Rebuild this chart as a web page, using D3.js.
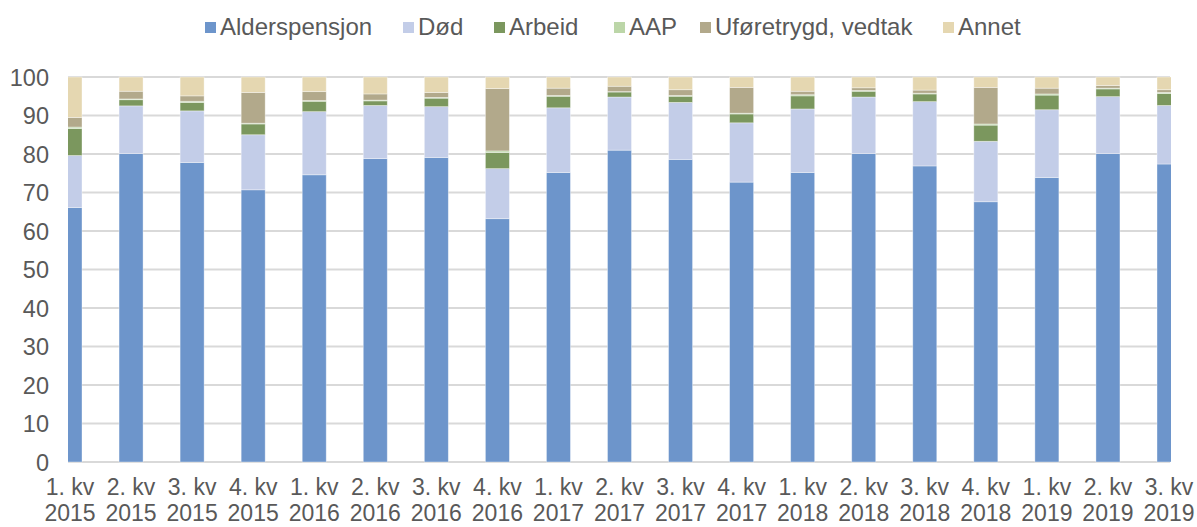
<!DOCTYPE html>
<html>
<head>
<meta charset="utf-8">
<script src="https://cdn.jsdelivr.net/npm/d3@7"></script>
<style>
body { margin: 0; background: #fff; }
text { font-family: "Liberation Sans", Arial, sans-serif; fill: #595959; }
</style>
</head>
<body>
<svg id="viz"></svg>
<script>
var width = 1197;
var height = 527;

// categories
var quarters = ["1. kv", "2. kv", "3. kv", "4. kv", "1. kv", "2. kv", "3. kv", "4. kv", "1. kv", "2. kv",
	"3. kv", "4. kv", "1. kv", "2. kv", "3. kv", "4. kv", "1. kv", "2. kv", "3. kv"]
var years = ["2015", "2015", "2015", "2015", "2016", "2016", "2016", "2016", "2017", "2017",
	"2017", "2017", "2018", "2018", "2018", "2018", "2019", "2019", "2019"]

// series (percent)
var alders = [66.1, 80.1, 77.8, 70.7, 74.6, 78.8, 79.1, 63.2, 75.2, 81.0, 78.6, 72.7, 75.2, 80.1, 76.9, 67.6, 73.9, 80.1, 77.4]
var dod    = [13.5, 12.4, 13.4, 14.3, 16.4, 13.8, 13.2, 13.0, 16.8, 13.8, 14.8, 15.4, 16.5, 14.7, 16.7, 15.7, 17.6, 14.8, 15.2]
var arbeid = [7.0, 1.6, 2.2, 2.8, 2.7, 1.2, 2.2, 4.2, 3.0, 1.3, 1.6, 2.3, 3.4, 1.5, 2.0, 4.2, 3.8, 2.0, 3.1]
var aap    = [0.4, 0.2, 0.3, 0.2, 0.2, 0.2, 0.2, 0.4, 0.2, 0.1, 0.2, 0.2, 0.3, 0.2, 0.2, 0.3, 0.3, 0.2, 0.3]
var ufore  = [2.5, 2.0, 1.4, 8.0, 2.3, 1.6, 1.3, 16.2, 1.9, 1.4, 1.5, 6.7, 0.9, 0.7, 0.8, 9.5, 1.5, 0.7, 0.7]
var annet  = [10.5, 3.7, 4.9, 4.0, 3.8, 4.4, 4.0, 3.0, 2.9, 2.4, 3.3, 2.7, 3.7, 2.8, 3.4, 2.7, 2.9, 2.2, 3.3]

var seriesNames = ["Alderspensjon", "Død", "Arbeid", "AAP", "Uføretrygd, vedtak", "Annet"]
var seriesValues = [alders, dod, arbeid, aap, ufore, annet]
var colors = ["#6d95cb", "#c3cde8", "#7b975e", "#bcd6a8", "#b2a98b", "#e5d7b1"]
var yTicks = [0, 10, 20, 30, 40, 50, 60, 70, 80, 90, 100]

// table for d3.stack
var rows = quarters.map((q, i) => {
	let r = {id: i, quarter: q, year: years[i]};
	seriesNames.forEach((s, j) => { r[s] = seriesValues[j][i]; });
	return r;
});

var svg = d3.select("#viz")
	.attr("width", width)
	.attr("height", height)
	.style("display", "block")

var plotLeft = 68, plotRight = 1171;

var x = d3.scalePoint().domain(rows.map(d => d.id)).range([70, 1169])
var y = d3.scaleLinear().domain([0, 100]).range([462, 77])
var barW = 24;

svg.append("clipPath").attr("id", "plotclip")
	.append("rect")
	.attr("x", plotLeft).attr("y", 0)
	.attr("width", plotRight - plotLeft).attr("height", height)

// gridlines
svg.append("g")
	.selectAll("line")
	.data(yTicks)
	.join("line")
	.attr("x1", plotLeft)
	.attr("x2", plotRight - 1)
	.attr("y1", d => y(d))
	.attr("y2", d => y(d))
	.style("stroke", "#d9d9d9")
	.style("stroke-width", 2)

// y axis labels
var yAxis = d3.axisLeft(y).tickValues(yTicks).tickSize(0).tickPadding(0)
svg.append("g")
	.attr("transform", "translate(49,0)")
	.call(yAxis)
	.call(g => g.select(".domain").remove())
	.selectAll("text")
	.style("font-size", "23.5px")
	.style("font-family", "'Liberation Sans', Arial, sans-serif")
	.attr("fill", "#595959")
	.attr("dy", "0.36em")

var stacked = d3.stack().keys(seriesNames)(rows)

svg.append("g")
	.attr("clip-path", "url(#plotclip)")
	.selectAll("g")
	.data(stacked)
	.join("g")
	.style("fill", (d, i) => colors[i])
	.selectAll("rect")
	.data(d => d)
	.join("rect")
	.attr("x", d => x(d.data.id) - barW / 2)
	.attr("width", barW)
	.attr("y", d => y(d[1]))
	.attr("height", d => y(d[0]) - y(d[1]))
	.style("stroke", "#ffffff")
	.style("stroke-opacity", 0.45)
	.style("stroke-width", 0.8)

// x labels, two lines
var xl = svg.append("g")
	.selectAll("text")
	.data(rows)
	.join("text")
	.attr("x", d => x(d.id))
	.attr("text-anchor", "middle")
	.style("font-size", "23px")
xl.append("tspan").attr("x", d => x(d.id)).attr("y", 495).text(d => d.quarter)
xl.append("tspan").attr("x", d => x(d.id)).attr("y", 521).text(d => d.year)

// legend
var legendX = [205, 403, 494, 614, 700, 943]
var legend = svg.append("g")
	.selectAll("g")
	.data(seriesNames)
	.join("g")
	.attr("transform", (d, i) => "translate(" + legendX[i] + ",27)")
legend.append("rect")
	.attr("x", 0).attr("y", -5)
	.attr("width", 11).attr("height", 11)
	.style("fill", (d, i) => colors[i])
legend.append("text")
	.attr("x", 15)
	.attr("y", 8)
	.style("font-size", "24px")
	.text(d => d)
</script>
</body>
</html>
